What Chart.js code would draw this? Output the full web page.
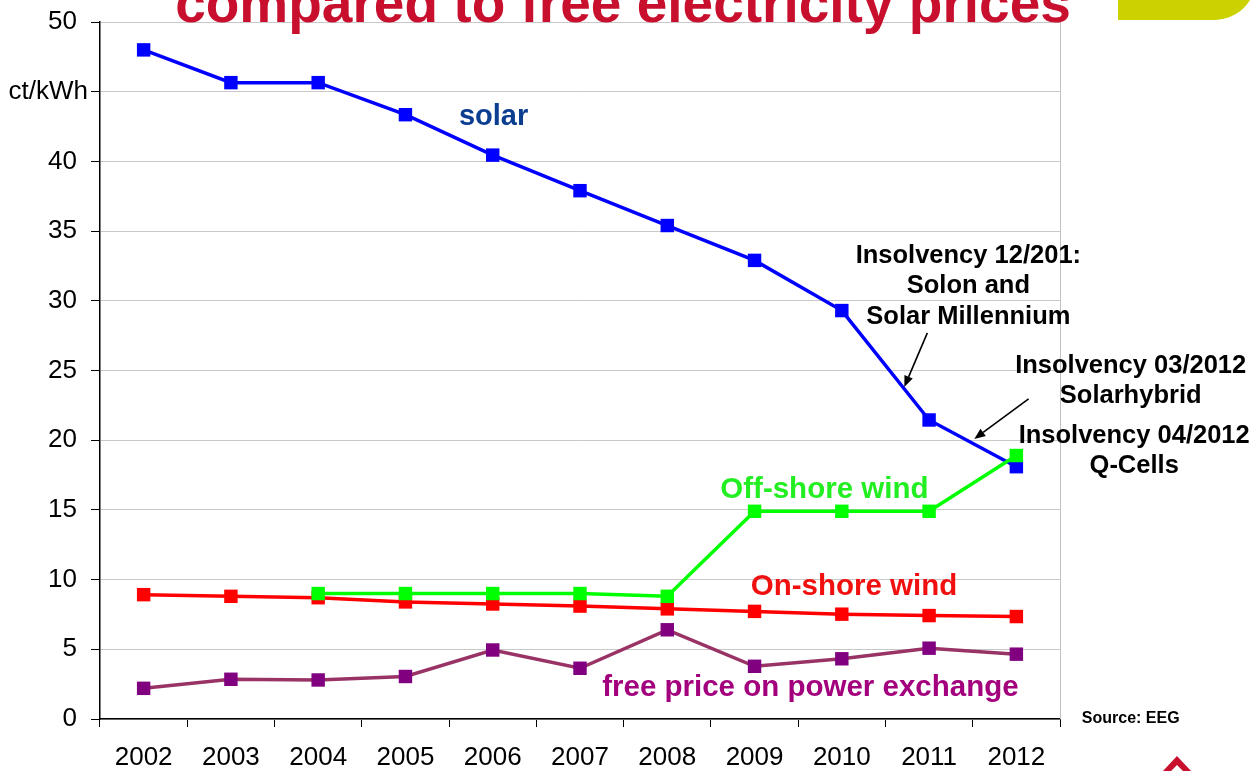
<!DOCTYPE html>
<html>
<head>
<meta charset="utf-8">
<script src="https://cdn.jsdelivr.net/npm/chart.js@4/dist/chart.umd.min.js"></script>
<style>
  html, body { margin: 0; padding: 0; background: #fff; }
  #wrap { width: 1252px; height: 771px; position: relative; }
</style>
</head>
<body>
<div id="wrap"><canvas id="c" width="1252" height="771"></canvas></div>
<script>
// ---- data ----
const years = ['2002','2003','2004','2005','2006','2007','2008','2009','2010','2011','2012'];
const solar = [48.0, 45.65, 45.65, 43.35, 40.45, 37.9, 35.4, 32.9, 29.3, 21.45, 18.1];
const offshoreWind = [null, null, 9.0, 9.0, 9.0, 9.0, 8.8, 14.9, 14.9, 14.9, 18.9];
const onshoreWind = [8.92, 8.8, 8.7, 8.4, 8.25, 8.1, 7.9, 7.72, 7.52, 7.42, 7.35];
const freePrice = [2.2, 2.85, 2.8, 3.05, 4.95, 3.64, 6.4, 3.78, 4.32, 5.08, 4.65];
const yTicks = [0, 5, 10, 15, 20, 25, 30, 35, 40, 45, 50];

const FONT = '"Liberation Sans", Arial, sans-serif';

// annotations in data units (x = category index, y = value)
const labels = [
  { text: 'solar', x: 4.01, y: 42.6, color: '#0B3D91', size: 29 },
  { text: 'Insolvency 12/201:', x: 9.45, y: 32.7, color: '#000', size: 25.5 },
  { text: 'Solon and', x: 9.45, y: 30.55, color: '#000', size: 25.5 },
  { text: 'Solar Millennium', x: 9.45, y: 28.35, color: '#000', size: 25.5 },
  { text: 'Insolvency 03/2012', x: 11.31, y: 24.82, color: '#000', size: 25.5 },
  { text: 'Solarhybrid', x: 11.31, y: 22.67, color: '#000', size: 25.5 },
  { text: 'Insolvency 04/2012', x: 11.35, y: 19.8, color: '#000', size: 25.5 },
  { text: 'Q-Cells', x: 11.35, y: 17.65, color: '#000', size: 25.5 },
  { text: 'Off-shore wind', x: 7.8, y: 15.85, color: '#22EE22', size: 29.5 },
  { text: 'On-shore wind', x: 8.14, y: 8.9, color: '#F01010', size: 29.5 },
  { text: 'free price on power exchange', x: 7.64, y: 1.65, color: '#A3007D', size: 29.5 },
  { text: 'Source: EEG', x: 11.31, y: -0.3, color: '#000', size: 16 }
];
const arrows = [
  { x1: 8.98, y1: 27.7, x2: 8.716, y2: 23.82 },
  { x1: 10.14, y1: 22.96, x2: 9.518, y2: 20.09 }
];

const decor = {
  id: 'decor',
  afterDraw(chart) {
    const ctx = chart.ctx;
    const xs = chart.scales.x, ys = chart.scales.y;
    const area = chart.chartArea;
    ctx.save();
    // right frame line
    ctx.strokeStyle = '#C0C0C0';
    ctx.lineWidth = 1;
    ctx.beginPath();
    ctx.moveTo(Math.round(area.right) + 0.5, area.top);
    ctx.lineTo(Math.round(area.right) + 0.5, area.bottom);
    ctx.stroke();

    // unit label
    ctx.fillStyle = '#000';
    ctx.font = '26px ' + FONT;
    ctx.textAlign = 'right';
    ctx.textBaseline = 'middle';
    ctx.fillText('ct/kWh', 88, ys.getPixelForValue(45));

    // title (cut off at top)
    ctx.fillStyle = '#C8102E';
    ctx.font = 'bold 55px ' + FONT;
    ctx.textAlign = 'center';
    ctx.textBaseline = 'alphabetic';
    ctx.fillText('compared to free electricity prices', 623, 22);

    // yellow-green corner shape
    ctx.fillStyle = '#CCD200';
    ctx.beginPath();
    ctx.moveTo(1118, 0);
    ctx.lineTo(1118, 20);
    ctx.lineTo(1212, 20);
    ctx.bezierCurveTo(1232, 20, 1244, 10, 1250, 0);
    ctx.closePath();
    ctx.fill();

    // red logo fragment
    ctx.fillStyle = '#C8102E';
    ctx.beginPath();
    ctx.moveTo(1177, 756); ctx.lineTo(1192, 772); ctx.lineTo(1162, 772); ctx.closePath();
    ctx.moveTo(1177, 765); ctx.lineTo(1184, 772); ctx.lineTo(1170, 772); ctx.closePath();
    ctx.fill('evenodd');

    // text annotations
    ctx.textAlign = 'center';
    ctx.textBaseline = 'alphabetic';
    labels.forEach(l => {
      ctx.fillStyle = l.color;
      ctx.font = 'bold ' + l.size + 'px ' + FONT;
      ctx.fillText(l.text, xs.getPixelForValue(l.x), ys.getPixelForValue(l.y));
    });

    // arrows
    ctx.strokeStyle = '#000';
    ctx.fillStyle = '#000';
    ctx.lineWidth = 1.6;
    arrows.forEach(a => {
      const x1 = xs.getPixelForValue(a.x1), y1 = ys.getPixelForValue(a.y1);
      const x2 = xs.getPixelForValue(a.x2), y2 = ys.getPixelForValue(a.y2);
      const ang = Math.atan2(y2 - y1, x2 - x1);
      const hl = 11, hw = 4.5;
      const bx = x2 - hl * Math.cos(ang), by = y2 - hl * Math.sin(ang);
      ctx.beginPath();
      ctx.moveTo(x1, y1); ctx.lineTo(bx, by); ctx.stroke();
      ctx.beginPath();
      ctx.moveTo(x2, y2);
      ctx.lineTo(bx + hw * Math.sin(ang), by - hw * Math.cos(ang));
      ctx.lineTo(bx - hw * Math.sin(ang), by + hw * Math.cos(ang));
      ctx.closePath();
      ctx.fill();
    });
    ctx.restore();
  }
};

function ds(label, data, line, point) {
  return {
    label, data,
    borderColor: line, backgroundColor: point,
    pointBackgroundColor: point, pointBorderColor: point,
    borderWidth: 3.5, pointStyle: 'rect', pointRadius: 9.5, pointBorderWidth: 0,
    pointHoverRadius: 9.5, tension: 0, spanGaps: false, clip: false
  };
}

new Chart(document.getElementById('c'), {
  type: 'line',
  data: {
    labels: years,
    datasets: [
      ds('Off-shore wind', offshoreWind, '#00FF00', '#00FF00'),
      ds('solar', solar, '#0000FF', '#0000FF'),
      ds('On-shore wind', onshoreWind, '#FF0000', '#FF0000'),
      ds('free price on power exchange', freePrice, '#993366', '#800080')
    ]
  },
  options: {
    responsive: false,
    animation: false,
    devicePixelRatio: 1,
    layout: { autoPadding: false, padding: { top: 22, right: 192, left: 0, bottom: 0 } },
    plugins: { legend: { display: false }, tooltip: { enabled: false }, title: { display: false } },
    scales: {
      x: {
        offset: true,
        grid: { display: true, offset: true, drawOnChartArea: false, drawTicks: true, tickLength: 8, tickColor: '#000', tickWidth: 1 },
        border: { display: true, color: '#000', width: 1.5 },
        ticks: { color: '#000', font: { family: FONT, size: 26 }, padding: 15, maxRotation: 0, autoSkip: false },
        afterFit(s) { s.height = 52; s.paddingLeft = 0; s.paddingRight = 0; }
      },
      y: {
        min: 0, max: 50,
        afterBuildTicks(s) { s.ticks = yTicks.map(v => ({ value: v })); },
        grid: { color: '#C8C8C8', lineWidth: 1, tickLength: 9, tickColor: '#000', tickWidth: 1 },
        border: { display: true, color: '#000', width: 1.5 },
        ticks: {
          color: '#000', font: { family: FONT, size: 26 }, padding: 14,
          callback: v => (v === 45 ? '' : String(v))
        },
        afterFit(s) { s.width = 100; s.paddingTop = 0; s.paddingBottom = 0; }
      }
    }
  },
  plugins: [decor]
});
</script>
</body>
</html>
